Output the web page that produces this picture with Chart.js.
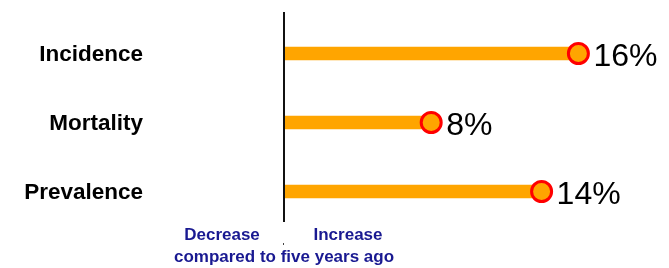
<!DOCTYPE html>
<html>
<head>
<meta charset="utf-8">
<script src="https://cdn.jsdelivr.net/npm/chart.js@4"></script>
<style>
  html, body { margin: 0; padding: 0; background: #ffffff; }
  #wrap { width: 669px; height: 268px; }
</style>
</head>
<body>
<div id="wrap"><canvas id="canvas_grafico" width="669" height="268"></canvas></div>
<script>
const categorias = ["Incidence", "Mortality", "Prevalence"];
const valores = [16, 8, 14];
const texto_izq = "Decrease";
const texto_der = "Increase";
const texto_abajo = "compared to five years ago";

const canvas_grafico = document.getElementById("canvas_grafico");
const fuente = "'Liberation Sans', Arial, sans-serif";
const azul = "#191991";

/* etiquetas de valor y textos del eje */
const extras = {
  id: "extras",
  afterDatasetsDraw(chart) {
    const ctx = chart.ctx;
    const area = chart.chartArea;
    const x0 = chart.scales.x.getPixelForValue(0);

    // linea del eje
    ctx.save();
    ctx.strokeStyle = "#111";
    ctx.lineWidth = 2;
    ctx.beginPath();
    ctx.moveTo(x0, area.top - 7);
    ctx.lineTo(x0, area.bottom - 4);
    ctx.stroke();
    ctx.fillStyle = "#444";
    ctx.fillRect(x0 - 1, area.bottom + 17, 1, 2);

    // porcentajes
    const size = 32;
    ctx.font = size + "px " + fuente;
    ctx.fillStyle = "#000";
    ctx.textAlign = "left";
    ctx.textBaseline = "alphabetic";
    chart.getDatasetMeta(0).data.forEach((pt, i) => {
      ctx.fillText(valores[i] + "%", pt.x + 15, pt.y + size * 0.39);
    });

    // textos de abajo
    ctx.font = "bold 17px " + fuente;
    ctx.fillStyle = azul;
    ctx.textAlign = "center";
    ctx.fillText(texto_izq, x0 - 62, area.bottom + 14);
    ctx.fillText(texto_der, x0 + 64, area.bottom + 14);
    ctx.fillText(texto_abajo, x0, area.bottom + 36);
    ctx.restore();
  }
};

const config = {
  type: "bar",
  data: {
    labels: categorias,
    datasets: [
      {
        type: "line",
        indexAxis: "y",
        data: valores,
        showLine: false,
        pointRadius: 10,
        pointBorderWidth: 3,
        pointBackgroundColor: "#FFA500",
        pointBorderColor: "#FF0000",
        order: 0
      },
      {
        type: "bar",
        indexAxis: "y",
        data: valores,
        backgroundColor: "#FFA500",
        barThickness: 13,
        order: 1
      }
    ]
  },
  options: {
    indexAxis: "y",
    responsive: false,
    animation: false,
    devicePixelRatio: 1,
    layout: { padding: { top: 19, bottom: 42, right: 17, left: 0 } },
    plugins: { legend: { display: false }, tooltip: { enabled: false } },
    scales: {
      x: { type: "linear", display: false, min: 0, max: 20 },
      y: {
        type: "category",
        offset: true,
        grid: { display: false, drawTicks: false },
        border: { display: false },
        ticks: {
          color: "#000",
          padding: 141,
          labelOffset: 1.5,
          font: { family: fuente, size: 22.5, weight: "bold" }
        },
        afterFit(scale) {
          scale.width = 284;
          scale.paddingTop = 0;
          scale.paddingBottom = 0;
        }
      }
    }
  },
  plugins: [extras]
};

new Chart(canvas_grafico, config);
</script>
</body>
</html>
